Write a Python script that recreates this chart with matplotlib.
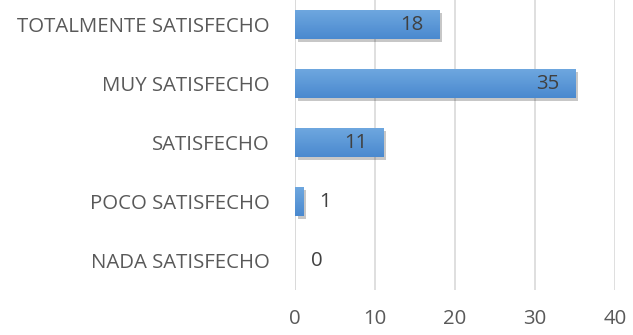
import numpy as np
import matplotlib
matplotlib.use("Agg")
import matplotlib.pyplot as plt
import matplotlib.patheffects as pe

categories = ["NADA SATISFECHO", "POCO SATISFECHO", "SATISFECHO",
              "MUY SATISFECHO", "TOTALMENTE SATISFECHO"]
values = [0, 1, 11, 35, 18]
x_ticks = [0, 10, 20, 30, 40]

plt.rcParams['font.family'] = ['Open Sans', 'DejaVu Sans']
FS = 14.7

fig = plt.figure(figsize=(6.33, 3.35), dpi=100)
ax = fig.add_axes([0.466, 0.1343, 0.5056, 0.8806])

ypos = np.arange(len(categories))
bars = ax.barh(ypos, values, height=0.49, color="#5b9bd5", zorder=3)

# vertical gradient inside each bar plus a soft drop shadow
grad = np.linspace(0, 1, 64).reshape(-1, 1)
cmap = matplotlib.colors.LinearSegmentedColormap.from_list("b", ["#4a89cf", "#6ea7df"])
for b in bars:
    b.set_path_effects([pe.SimplePatchShadow(offset=(2, -2), shadow_rgbFace="#000000", alpha=0.22), pe.Normal()])
    if b.get_width() <= 0:
        continue
    x0, y0 = b.get_x(), b.get_y()
    im = ax.imshow(grad, cmap=cmap, aspect="auto", origin="lower",
                   extent=[x0, x0 + b.get_width(), y0, y0 + b.get_height()], zorder=4)
    im.set_clip_path(b)

for y, v in zip(ypos, values):
    if v >= 5:
        ax.text(v - 2.0, y, str(v), ha="right", va="center", fontsize=FS, color="#404040", zorder=5)
    else:
        ax.text(v + 2.0, y, str(v), ha="left", va="center", fontsize=FS, color="#404040", zorder=5)

ax.set_xlim(0, 40)
ax.set_ylim(-0.5, len(categories) - 0.5)
ax.set_xticks(x_ticks)
ax.set_yticks(ypos)
ax.set_yticklabels(categories)
ax.grid(axis="x", color="#d9d9d9", linewidth=1.2, zorder=0)
ax.axvline(0, color="#d9d9d9", linewidth=1.2, zorder=1)
for s in ax.spines.values():
    s.set_visible(False)
ax.tick_params(axis="both", length=0, labelsize=FS, labelcolor="#595959")
ax.tick_params(axis="y", pad=18)
ax.tick_params(axis="x", pad=14)

fig.savefig("out.png", dpi=100)
